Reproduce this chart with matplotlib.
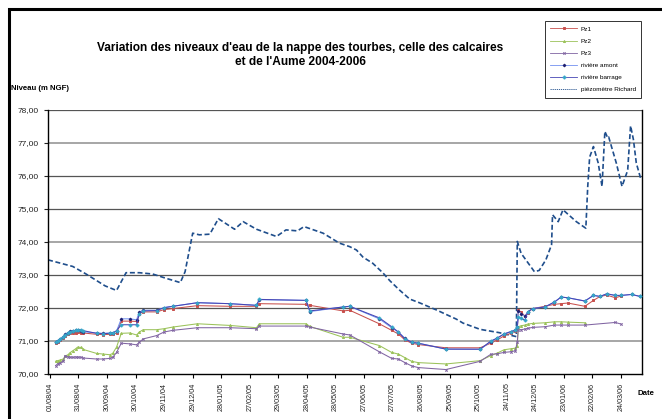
import numpy as np
import pandas as pd
import matplotlib
matplotlib.use("Agg")
import matplotlib.pyplot as plt
from matplotlib.patches import Rectangle

plt.rcParams['font.family'] = ['Liberation Sans', 'DejaVu Sans']

# dates des mesures (Pz et rivière)
dates_mes = ['07/08/04', '09/08/04', '12/08/04', '15/08/04', '17/08/04', '20/08/04', '22/08/04',
             '25/08/04', '28/08/04', '30/08/04', '03/09/04', '05/09/04', '19/09/04', '26/09/04',
             '03/10/04', '06/10/04', '10/10/04', '15/10/04', '24/10/04', '31/10/04', '03/11/04',
             '07/11/04', '21/11/04', '29/11/04', '08/12/04', '03/01/05', '06/02/05', '06/03/05',
             '09/03/05', '27/04/05', '01/05/05', '05/06/05', '12/06/05', '13/07/05', '26/07/05',
             '02/08/05', '09/08/05', '16/08/05', '23/08/05', '21/09/05', '27/10/05', '07/11/05',
             '14/11/05', '21/11/05', '28/11/05', '03/12/05', '05/12/05', '06/12/05', '09/12/05',
             '13/12/05', '16/12/05', '21/12/05', '03/01/06', '13/01/06', '20/01/06', '27/01/06',
             '14/02/06', '23/02/06', '02/03/06', '09/03/06', '18/03/06', '24/03/06', '04/04/06',
             '13/04/06']
nan = np.nan
pz1 = [70.93, 70.97, 71.02, 71.08, 71.14, 71.19, 71.22, 71.23, 71.24, 71.25, 71.24, 71.23, 71.19,
       71.18, 71.19, 71.19, 71.23, 71.59, 71.59, 71.58, 71.82, 71.87, 71.87, 71.94, 71.97, 72.06,
       72.04, 72.04, 72.12, 72.10, 72.07, 71.90, 71.92, 71.51, 71.31, 71.20, 71.02, 70.92, 70.88,
       70.78, 70.78, 70.92, 71.02, 71.14, 71.22, 71.30, 71.35, 71.92, 71.87, 71.74, 71.85, 71.97,
       72.04, 72.10, 72.12, 72.14, 72.04, 72.22, 72.34, 72.38, 72.30, 72.35, nan, nan]
pz2 = [70.37, 70.39, 70.41, 70.44, 70.53, 70.57, 70.63, 70.69, 70.75, 70.80, 70.79, 70.73, 70.61,
       70.59, 70.57, 70.61, 70.80, 71.22, 71.23, 71.17, 71.26, 71.33, 71.33, 71.36, 71.41, 71.51,
       71.46, 71.39, 71.51, 71.51, 71.43, 71.10, 71.10, 70.85, 70.64, 70.59, 70.48, 70.37, 70.33,
       70.29, 70.39, 70.54, 70.62, 70.72, 70.75, 70.77, 70.82, 71.42, 71.45, 71.47, 71.50, 71.52,
       71.54, 71.57, 71.57, 71.56, 71.54, nan, nan, nan, nan, nan, nan, nan]
pz3 = [70.24, 70.29, 70.33, 70.37, 70.54, 70.50, 70.50, 70.49, 70.50, 70.50, 70.49, 70.47, 70.44,
       70.44, 70.46, 70.49, 70.64, 70.92, 70.90, 70.87, 70.95, 71.05, 71.15, 71.26, 71.31, 71.39,
       71.39, 71.36, 71.44, 71.44, 71.41, 71.20, 71.17, 70.66, 70.46, 70.44, 70.33, 70.23, 70.18,
       70.12, 70.37, 70.58, 70.60, 70.64, 70.66, 70.69, 70.97, 71.32, 71.33, 71.35, 71.37, 71.40,
       71.42, 71.47, 71.47, 71.47, 71.47, nan, nan, nan, 71.55, 71.50, nan, nan]
riv_amont = [70.95, 71.00, 71.05, 71.12, 71.20, 71.24, 71.28, 71.30, 71.31, 71.31, 71.29, 71.27,
             71.23, 71.22, 71.23, 71.23, 71.29, 71.66, 71.66, 71.63, 71.87, 71.92, 71.92, 72.00,
             72.04, 72.15, 72.12, 72.07, 72.24, 72.22, 71.88, 72.02, 72.04, 71.66, 71.39, 71.26,
             71.07, 70.95, 70.92, 70.74, 70.73, 70.97, 71.07, 71.20, 71.27, 71.32, 71.42, 71.90,
             71.82, 71.74, 71.87, 71.97, 72.02, 72.17, 72.32, 72.30, 72.20, 72.37, 72.34, 72.42,
             72.37, 72.37, 72.40, 72.34]
riv_barrage = [70.95, 71.00, 71.04, 71.10, 71.17, 71.22, 71.26, 71.29, 71.31, 71.32, 71.33, 71.30,
               71.22, 71.21, 71.22, 71.23, 71.30, 71.48, 71.48, 71.48, 71.82, 71.90, 71.91, 72.00,
               72.04, 72.15, 72.12, 72.07, 72.25, 72.22, 71.90, 72.02, 72.04, 71.69, 71.42, 71.26,
               71.05, 70.95, 70.92, 70.74, 70.74, 70.98, 71.08, 71.20, 71.27, 71.32, 71.40, 71.72,
               71.67, 71.62, 71.87, 71.97, 72.02, 72.17, 72.32, 72.30, 72.20, 72.37, 72.34, 72.42,
               72.37, 72.37, 72.40, 72.34]

# piézomètre Richard
dates_rich = ['30/07/04', '25/08/04', '08/09/04', '28/09/04', '10/10/04', '20/10/04', '03/11/04',
              '17/11/04', '01/12/04', '16/12/04', '21/12/04', '29/12/04', '05/01/05', '16/01/05',
              '25/01/05', '11/02/05', '20/02/05', '06/03/05', '27/03/05', '06/04/05', '18/04/05',
              '25/04/05', '15/05/05', '01/06/05', '12/06/05', '19/06/05', '26/06/05', '06/07/05',
              '17/07/05', '24/07/05', '03/08/05', '14/08/05', '24/08/05', '11/09/05', '02/10/05',
              '09/10/05', '27/10/05', '16/11/05', '04/12/05', '05/12/05', '09/12/05', '14/12/05',
              '23/12/05', '28/12/05', '04/01/06', '10/01/06', '11/01/06', '17/01/06', '22/01/06',
              '05/02/06', '15/02/06', '17/02/06', '19/02/06', '23/02/06', '28/02/06', '04/03/06',
              '07/03/06', '10/03/06', '11/03/06', '19/03/06', '25/03/06', '30/03/06', '31/03/06',
              '03/04/06', '06/04/06', '09/04/06', '14/04/06']
richard = [73.45, 73.25, 73.02, 72.66, 72.52, 73.06, 73.06, 73.02, 72.89, 72.76, 73.09, 74.26,
           74.21, 74.23, 74.70, 74.38, 74.61, 74.38, 74.16, 74.36, 74.33, 74.46, 74.26, 73.96,
           73.85, 73.75, 73.53, 73.35, 73.05, 72.82, 72.54, 72.26, 72.15, 71.93, 71.65, 71.53,
           71.34, 71.24, 71.12, 74.01, 73.65, 73.45, 73.09, 73.13, 73.45, 73.91, 74.82, 74.61,
           74.97, 74.61, 74.41, 75.68, 76.57, 76.89, 76.39, 75.68, 77.35, 77.15, 77.18, 76.39,
           75.68, 76.09, 76.19, 77.52, 77.10, 76.39, 75.88]

y_ticks = [70, 71, 72, 73, 74, 75, 76, 77, 78]

d_mes = pd.to_datetime(dates_mes, format='%d/%m/%y')
d_rich = pd.to_datetime(dates_rich, format='%d/%m/%y')

fig = plt.figure(figsize=(6.62, 4.19), dpi=100)
fig.patches.append(Rectangle((9 / 662, -0.1), 1.2, 1 - 9 / 419 + 0.1, transform=fig.transFigure,
                             fill=False, edgecolor='black', linewidth=2.2, zorder=0))
ax = fig.add_axes([48 / 662, 1 - 373.5 / 419, 594 / 662, 263.5 / 419])

# grille horizontale
for v in y_ticks[1:]:
    light = v in (71, 74, 77)
    ax.axhline(v, color='#a6a6a6' if light else '#555555', lw=1.4 if light else 0.9, zorder=1)

series = [
    ('Pz1', pz1, '#c8504d', 's', '#c8504d', 1.8),
    ('Pz2', pz2, '#9bc25a', '^', '#9bc25a', 1.5),
    ('Pz3', pz3, '#8064a2', 'x', '#8064a2', 1.7),
    ('rivière amont', riv_amont, '#7391f0', 'D', '#1f1f70', 1.4),
    ('rivière barrage', riv_barrage, '#4646b4', 'P', '#35a6c8', 2.1),
]
for name, vals, lc, mk, mc, ms in series:
    vals = np.array(vals, dtype=float)
    ok = ~np.isnan(vals)
    ax.plot(d_mes[ok], vals[ok], color=lc, lw=0.75, marker=mk, ms=ms, mfc=mc, mec=mc,
            mew=0.7, label=name, zorder=3)

ax.plot(d_rich, richard, color='#1f4e8c', lw=1.2, ls=(0, (3, 1.6)), label='piézomètre Richard',
        zorder=2)

ax.set_ylim(70, 78)
ax.set_yticks(y_ticks)
ax.yaxis.set_major_formatter(plt.FuncFormatter(lambda v, p: ('%.2f' % v).replace('.', ',')))
ax.set_xlim(pd.Timestamp('2004-07-30'), pd.Timestamp('2006-04-15'))
ticks_x = pd.date_range('2004-08-01', periods=21, freq='30D')
ax.set_xticks(ticks_x)
ax.set_xticklabels([t.strftime('%d/%m/%y') for t in ticks_x], rotation=90, fontsize=5.2,
                   color='#222222')
ax.tick_params(axis='y', labelsize=6, colors='#222222', length=3, width=0.8)
ax.tick_params(axis='x', length=3, width=0.8)
ax.spines['top'].set_visible(False)
for s in ('left', 'bottom', 'right'):
    ax.spines[s].set_linewidth(1.0)
    ax.spines[s].set_color('black')

fig.text(300 / 662, 1 - 48 / 419, "Variation des niveaux d'eau de la nappe des tourbes, celle des calcaires",
         ha='center', va='center', fontsize=8.6, fontweight='bold')
fig.text(300 / 662, 1 - 62 / 419, "et de l'Aume 2004-2006",
         ha='center', va='center', fontsize=8.6, fontweight='bold')
fig.text(11 / 662, 1 - 89 / 419, 'Niveau (m NGF)', ha='left', va='center', fontsize=5.6,
         fontweight='bold')
fig.text(638 / 662, 1 - 393 / 419, 'Date', ha='left', va='center', fontsize=5.6, fontweight='bold')

leg = ax.legend(loc='upper right', bbox_to_anchor=(641 / 662, 1 - 21 / 419),
                bbox_transform=fig.transFigure, fontsize=4.6, frameon=True, fancybox=False,
                handlelength=4.2, labelspacing=1.05, borderpad=0.8, handletextpad=0.6,
                borderaxespad=0)
leg.get_frame().set_edgecolor('black')
leg.get_frame().set_linewidth(0.7)
for h in leg.get_lines():
    h.set_linewidth(0.6)
leg.get_lines()[-1].set_linestyle((0, (1.5, 1)))

fig.savefig('out.png', dpi=100)
